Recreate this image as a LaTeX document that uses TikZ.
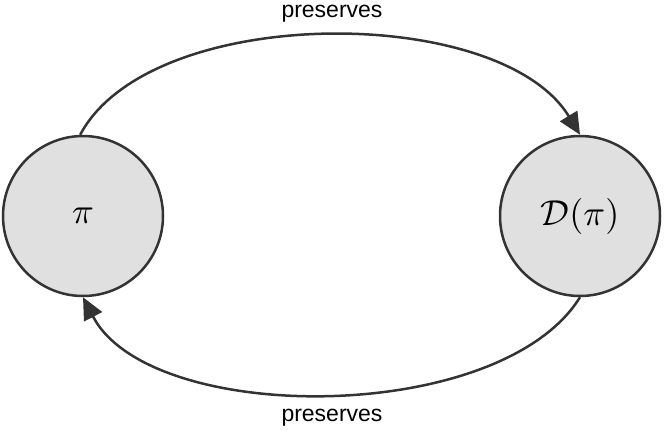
\documentclass[tikz,border=0pt]{standalone}
\usepackage{graphicx}
\usepackage{fontspec}
\setsansfont{Liberation Sans}
\usetikzlibrary{arrows.meta}
\definecolor{nodegray}{HTML}{E0E0E0}
\definecolor{linegray}{HTML}{333333}
\newcommand{\bigmath}[1]{\scalebox{3.6}{$#1$}}
\tikzset{
  setnode/.style={circle, draw=linegray, fill=nodegray, line width=2.5pt, minimum size=160pt, inner sep=0pt},
  maparrow/.style={draw=linegray, line width=2.5pt, -{Triangle[length=22pt,width=20pt]}},
  maplabel/.style={font=\sffamily\fontsize{23}{27}\selectfont, text=black}
}
\begin{document}
\begin{tikzpicture}[x=1pt,y=-1pt]
			\useasboundingbox (0,0) rectangle (664,439);
			\node[setnode] (P)  at (83,216)  {\bigmath{\pi}};
			\node[setnode] (DP) at (580,216) {\bigmath{\mathcal{D}(\pi)}};

			\draw[maparrow] (P.92) .. controls (150,3) and (500,3) .. (DP.90);
			\draw[maparrow] (DP.-90) .. controls (500,426) and (150,426) .. (P.-90);

			\node[maplabel] (top) at (332,14)  {preserves};
			\node[maplabel] (bot) at (332,418) {preserves};
		\end{tikzpicture}
\end{document}
